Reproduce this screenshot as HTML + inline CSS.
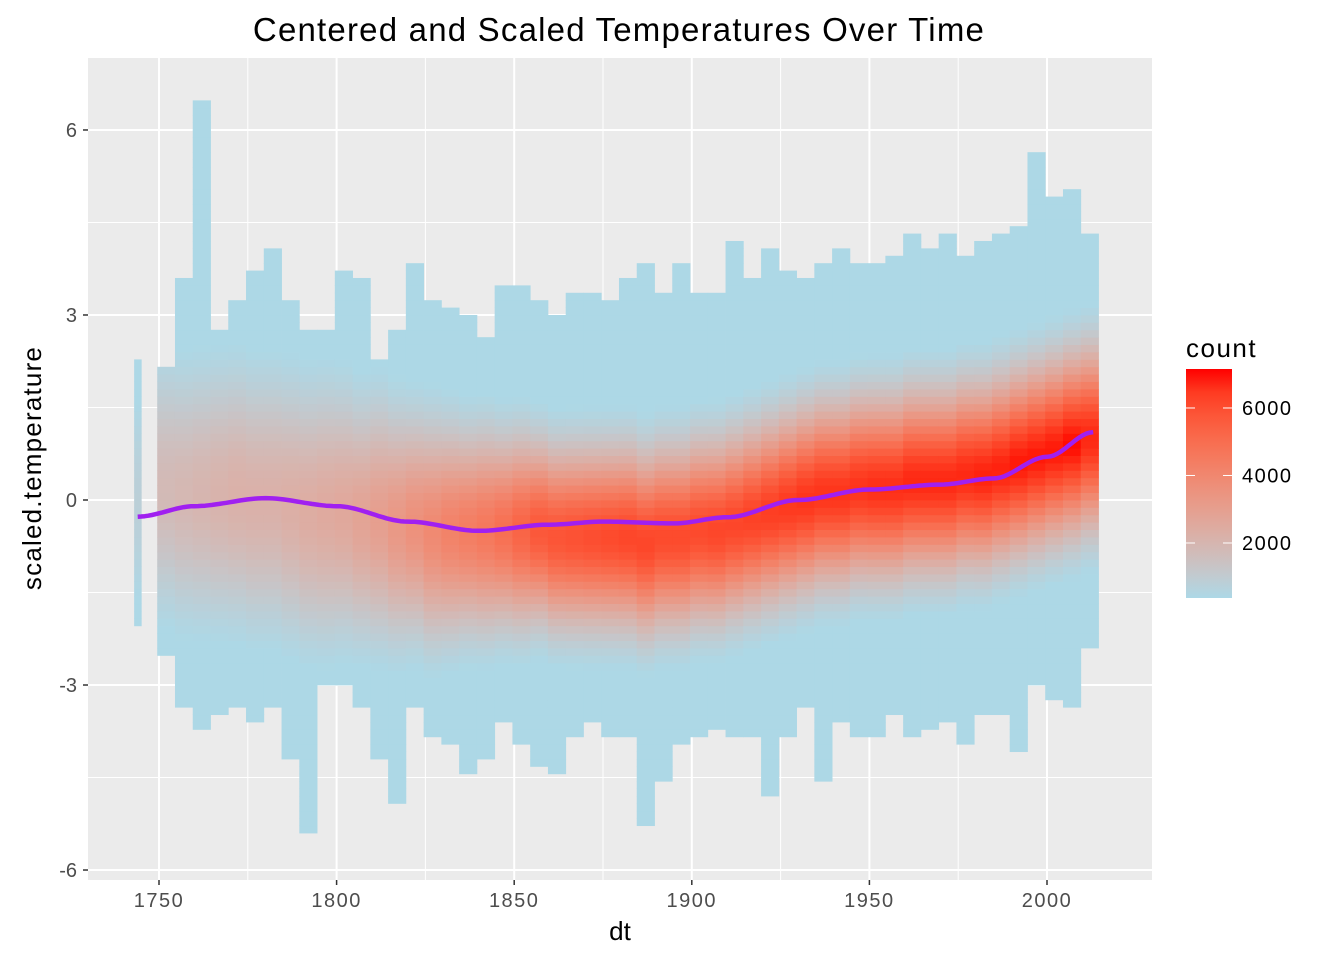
<!DOCTYPE html>
<html><head><meta charset="utf-8"><style>
body{margin:0;background:#fff;font-family:"Liberation Sans",sans-serif}
svg text{font-family:"Liberation Sans",sans-serif}
</style></head><body>
<svg id="chart" width="1344" height="960" xmlns="http://www.w3.org/2000/svg">
<rect x="0" y="0" width="1344" height="960" fill="#fff"/>
<rect x="88" y="58" width="1064" height="822" fill="#EBEBEB"/>
<g id="grid"></g>
<g id="cells"></g>
<g id="smooth"></g>
<g id="axes"></g>
<text x="619" y="41" font-size="33" letter-spacing="1.2" text-anchor="middle" fill="#000">Centered and Scaled Temperatures Over Time</text>
<text x="620" y="940" font-size="26" text-anchor="middle" fill="#000">dt</text>
<text transform="translate(41,468) rotate(-90)" font-size="26" letter-spacing="1.2" text-anchor="middle" fill="#000">scaled.temperature</text>
<g id="legend">
<text x="1186" y="357" font-size="26" letter-spacing="1.5" fill="#000">count</text>
<defs><linearGradient id="lg" x1="0" y1="1" x2="0" y2="0"></linearGradient></defs>
<rect x="1186" y="369" width="46" height="229" fill="url(#lg)"/>
<g id="legticks"></g>
</g>
</svg>
<script>
// ---- data ----
const binYears = [1750,1755,1760,1765,1770,1775,1780,1785,1790,1795,1800,1805,1810,1815,1820,1825,1830,1835,1840,1845,1850,1855,1860,1865,1870,1875,1880,1885,1890,1895,1900,1905,1910,1915,1920,1925,1930,1935,1940,1945,1950,1955,1960,1965,1970,1975,1980,1985,1990,1995,2000,2005,2010];
const binTop = [2.2,3.6,6.5,2.8,3.3,3.7,4.1,3.2,2.8,2.8,3.7,3.6,2.3,2.8,3.8,3.3,3.1,3.0,2.6,3.5,3.5,3.2,3.0,3.4,3.4,3.2,3.6,3.8,3.4,3.9,3.4,3.4,4.2,3.6,4.1,3.7,3.6,3.9,4.1,3.9,3.8,4.0,4.3,4.1,4.3,4.0,4.2,4.3,4.5,5.6,4.9,5.1,4.3];
const binBottom = [-2.5,-3.4,-3.7,-3.5,-3.4,-3.6,-3.3,-4.2,-5.4,-3.0,-3.0,-3.3,-4.2,-4.9,-3.4,-3.8,-3.9,-4.4,-4.2,-3.6,-4.0,-4.3,-4.4,-3.8,-3.6,-3.8,-3.8,-5.3,-4.6,-4.0,-3.8,-3.7,-3.8,-3.8,-4.8,-3.8,-3.4,-4.5,-3.6,-3.8,-3.8,-3.5,-3.8,-3.7,-3.6,-4.0,-3.5,-3.5,-4.1,-3.0,-3.2,-3.4,-2.4];
const binCenter = [0.2,0.1,0.1,0.1,0.1,0.0,0.0,-0.1,-0.2,-0.2,-0.2,-0.3,-0.3,-0.4,-0.4,-0.5,-0.5,-0.5,-0.5,-0.5,-0.5,-0.5,-0.6,-0.6,-0.6,-0.6,-0.6,-0.7,-0.6,-0.6,-0.5,-0.5,-0.4,-0.3,-0.2,-0.1,0.0,0.1,0.1,0.2,0.2,0.2,0.3,0.3,0.3,0.4,0.4,0.5,0.6,0.7,0.8,0.9,1.0];
const binPeak = [1800,1900,2000,2100,2200,2200,2200,2300,2400,2500,2600,2800,3000,3300,3600,3900,4200,4400,4600,4900,5300,5700,5800,5900,6000,6100,6200,6200,6100,6100,6100,6200,6200,6300,6400,6500,6600,6600,6600,6600,6700,6700,6800,6800,6800,6800,6900,6900,7000,7000,7000,7100,6800];
const binSpread = [1.3,1.3,1.3,1.3,1.3,1.3,1.3,1.3,1.3,1.3,1.25,1.2,1.2,1.15,1.1,1.1,1.05,1.0,1.0,0.95,0.95,0.9,0.9,0.9,0.9,0.9,0.9,0.9,0.9,0.9,0.9,0.9,0.9,0.9,0.9,0.9,0.9,0.9,0.9,0.9,0.9,0.9,0.9,0.9,0.9,0.9,0.9,0.9,0.9,0.9,0.9,0.9,0.9];
const firstYear = [1744], firstTop = [2.3], firstBottom = [-2.0];
const smoothYears = [1744,1760,1780,1800,1820,1840,1860,1875,1895,1910,1930,1950,1970,1985,2000,2013];
const smoothVals = [-0.27,-0.1,0.03,-0.1,-0.35,-0.5,-0.4,-0.35,-0.38,-0.28,0.0,0.17,0.25,0.35,0.7,1.1];
const xTicks = [1750,1800,1850,1900,1950,2000];
const xMinor = [1775,1825,1875,1925,1975];
const yTicks = [-6,-3,0,3,6];
const yMinor = [-4.5,-1.5,1.5,4.5];
const legendTicks = [2000,4000,6000];
// ---- scales ----
const X = y => 159 + (y-1750)*3.552;
const Y = v => 500 - v*61.67;
const NS = "http://www.w3.org/2000/svg";
function mk(tag, attrs, parent){const e=document.createElementNS(NS,tag);for(const k in attrs)e.setAttribute(k,attrs[k]);parent.appendChild(e);return e;}
function srgb2lin(c){c/=255;return c<=0.04045?c/12.92:Math.pow((c+0.055)/1.055,2.4);}
function lin2srgb(c){c=c<=0.0031308?12.92*c:1.055*Math.pow(c,1/2.4)-0.055;return Math.round(Math.max(0,Math.min(1,c))*255);}
function toLab(r,g,b){r=srgb2lin(r);g=srgb2lin(g);b=srgb2lin(b);
 let x=(r*0.4124+g*0.3576+b*0.1805)/0.95047,y=(r*0.2126+g*0.7152+b*0.0722),z=(r*0.0193+g*0.1192+b*0.9505)/1.08883;
 const f=t=>t>0.008856?Math.cbrt(t):7.787*t+16/116;
 return [116*f(y)-16,500*(f(x)-f(y)),200*(f(y)-f(z))];}
function fromLab(L,a,bb){let fy=(L+16)/116,fx=fy+a/500,fz=fy-bb/200;
 const fi=t=>t*t*t>0.008856?t*t*t:(t-16/116)/7.787;
 let x=fi(fx)*0.95047,y=fi(fy),z=fi(fz)*1.08883;
 let r=x*3.2406-y*1.5372-z*0.4986,g=-x*0.9689+y*1.8758+z*0.0415,b=x*0.0557-y*0.2040+z*1.0570;
 return `rgb(${lin2srgb(r)},${lin2srgb(g)},${lin2srgb(b)})`;}
const lo=toLab(173,216,230), hi=toLab(255,0,0);
function col(count){let t=(count-370)/(7155-370);t=Math.max(0,Math.min(1,t));return fromLab(lo[0]+(hi[0]-lo[0])*t,lo[1]+(hi[1]-lo[1])*t,lo[2]+(hi[2]-lo[2])*t);}
// ---- grid ----
const grid=document.getElementById('grid');
xMinor.forEach(v=>{const l=mk('line',{x1:X(v),x2:X(v),y1:58,y2:880,stroke:'#fff','stroke-width':1},grid);});
yMinor.forEach(v=>{const l=mk('line',{x1:88,x2:1152,y1:Y(v),y2:Y(v),stroke:'#fff','stroke-width':1},grid);});
xTicks.forEach(v=>{const l=mk('line',{x1:X(v),x2:X(v),y1:58,y2:880,stroke:'#fff','stroke-width':2},grid);});
yTicks.forEach(v=>{const l=mk('line',{x1:88,x2:1152,y1:Y(v),y2:Y(v),stroke:'#fff','stroke-width':2},grid);});
// ---- cells ----
const cells=document.getElementById('cells');
const dy=0.12;
function column(x0,x1,top,bot,center,peak,sd){
 for(let v=-6;v<7;v+=dy){
  const mid=v+dy/2; if(mid>top||mid<bot) continue;
  const c=Math.max(370,peak*Math.exp(-(mid-center)*(mid-center)/(2*sd*sd)));
  const r=mk('rect',{x:x0,y:Y(v+dy),width:x1-x0+0.4,height:dy*61.67+0.4,fill:col(c)},cells);
  
  
 }
}
column(X(firstYear[0]-1),X(firstYear[0]+1),firstTop[0],firstBottom[0],0,800,1.3);
binYears.forEach((yr,i)=>column(X(yr-0.5),X(yr+4.5),binTop[i],binBottom[i],binCenter[i],binPeak[i],binSpread[i]));
// ---- smooth line ----
let d='';
for(let yr=smoothYears[0];yr<=smoothYears[smoothYears.length-1];yr+=1){
 let k=0;while(k<smoothYears.length-2&&yr>smoothYears[k+1])k++;
 const t=(yr-smoothYears[k])/(smoothYears[k+1]-smoothYears[k]);
 const s=t*t*(3-2*t);
 const v=smoothVals[k]+(smoothVals[k+1]-smoothVals[k])*s;
 d+=(d?'L':'M')+X(yr).toFixed(1)+','+Y(v).toFixed(1);
}
const sl=mk('path',{d:d,fill:'none',stroke:'#A020F0','stroke-width':4.5,'stroke-linejoin':'round'},document.getElementById('smooth'));


// ---- axes ----
const ax=document.getElementById('axes');
xTicks.forEach(v=>{
 const t=mk('line',{x1:X(v),x2:X(v),y1:880,y2:885,stroke:'#333','stroke-width':1.5},ax);
 
 const tx=mk('text',{x:X(v),y:907,'font-size':20,'letter-spacing':1.5,'text-anchor':'middle',fill:'#4D4D4D'},ax);tx.textContent=v;
 
});
yTicks.forEach(v=>{
 const t=mk('line',{x1:83,x2:88,y1:Y(v),y2:Y(v),stroke:'#333','stroke-width':1.5},ax);
 
 const tx=mk('text',{x:77,y:Y(v)+7,'font-size':20,'text-anchor':'end',fill:'#4D4D4D'},ax);tx.textContent=v;
 
});
// ---- legend ----
const lg=document.getElementById('lg');
for(let i=0;i<=10;i++){mk('stop',{offset:(i*10)+'%','stop-color':col(370+(7155-370)*i/10)},lg);}
const LY=c=>598-(c-370)*(229/(7155-370));
const lt=document.getElementById('legticks');
legendTicks.forEach(c=>{
 mk('line',{x1:1186,x2:1195,y1:LY(c),y2:LY(c),stroke:'#fff','stroke-width':1},lt);
 mk('line',{x1:1223,x2:1232,y1:LY(c),y2:LY(c),stroke:'#fff','stroke-width':1},lt);
 const tx=mk('text',{x:1242,y:LY(c)+7,'font-size':20,'letter-spacing':1.5,fill:'#000'},lt);tx.textContent=c;
 
});
</script>
</body></html>
